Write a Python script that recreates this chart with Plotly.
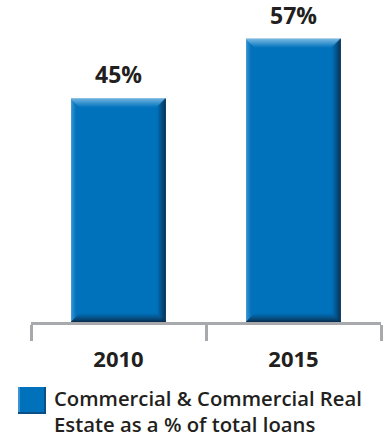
import plotly.graph_objects as go

# Share of commercial & commercial real estate lending
years = ["2010", "2015"]
share_pct = [45, 57]
value_labels = ["45%", "57%"]
legend_text = "Commercial &amp; Commercial Real<br>Estate as a % of total loans"

BLUE = "#0072BC"
TEXT = "#231F20"
GRAY = "#A7A9AC"
FONT = "Open Sans"
BAR_W = 0.54

# layout geometry
W_FIG, H_FIG = 389, 438
M_L, M_R, M_T, M_B = 31, 8, 0, 116
X_LO, X_HI = -0.5, len(years) - 0.5
Y_MAX = 64.8
PX_X = (W_FIG - M_L - M_R) / (X_HI - X_LO)
PX_Y = (H_FIG - M_T - M_B) / Y_MAX

xs = list(range(len(years)))

fig = go.Figure()
fig.add_trace(go.Bar(
    x=xs, y=share_pct, width=BAR_W,
    marker=dict(color=BLUE, line=dict(width=0)),
    showlegend=False, hoverinfo="skip",
))


def lerp(c1, c2, t):
    a = [int(c1[i:i + 2], 16) for i in (1, 3, 5)]
    b = [int(c2[i:i + 2], 16) for i in (1, 3, 5)]
    t = max(0.0, min(1.0, t))
    return "#" + "".join(f"{round(a[k] + (b[k] - a[k]) * t):02x}" for k in range(3))


shapes = []


def px_rect(xa, ya, x0, x1, y0, y1, color, xref="x", yref="y"):
    """Rectangle in pixels relative to an anchor point given in axis units."""
    shapes.append(dict(type="rect", xref=xref, yref=yref,
                       xsizemode="pixel", ysizemode="pixel",
                       xanchor=xa, yanchor=ya, x0=x0, x1=x1, y0=y0, y1=y1,
                       line_width=0, fillcolor=color, layer="above"))


# bevelled edges on each bar, built in pixels from its bottom-left corner
for xi, v in zip(xs, share_pct):
    left = xi - BAR_W / 2
    bw = BAR_W * PX_X
    bh = v * PX_Y
    # lighter left edge
    n = 5
    for c in range(n):
        px_rect(left, 0, c, c + 1, c, bh - c, lerp("#4b9dd6", BLUE, (c + 0.5) / n))
    # darker bottom edge
    n = 9
    for r in range(n):
        px_rect(left, 0, r, bw - r, r, r + 1, lerp("#0b2a48", BLUE, ((r + 0.5) / n) ** 0.8))
    # light top edge
    n = 9
    for r in range(n):
        px_rect(left, 0, r, bw - r, bh - r - 1, bh - r, lerp("#93c8ea", BLUE, ((r + 0.5) / n) ** 1.1))
    # dark right edge
    n = 9
    for c in range(n):
        px_rect(left, 0, bw - c - 1, bw - c, c, bh - c, lerp("#0a1f36", BLUE, ((c + 0.5) / n) ** 0.9))

# legend swatch
px_rect(0, 0, -13, 15, -92, -65, BLUE, xref="paper", yref="paper")
px_rect(0, 0, 13, 15, -92, -65, "#0a4f88", xref="paper", yref="paper")
px_rect(0, 0, -13, 15, -92, -90, "#0a4f88", xref="paper", yref="paper")
px_rect(0, 0, -13, -11, -90, -65, "#3d93d0", xref="paper", yref="paper")

annotations = [
    dict(x=xi, y=v, xref="x", yref="y", text=lbl, showarrow=False,
         yanchor="bottom", yshift=6, font=dict(family=FONT, size=23, color=TEXT, weight=700))
    for xi, v, lbl in zip(xs, share_pct, value_labels)
]
annotations.append(dict(x=0, y=0, xref="paper", yref="paper", xshift=21, yshift=-60,
                        xanchor="left", yanchor="top", align="left", showarrow=False,
                        text=legend_text,
                        font=dict(family=FONT, size=20.3, color=TEXT, weight=600)))

fig.update_layout(
    width=W_FIG, height=H_FIG,
    margin=dict(l=M_L, r=M_R, t=M_T, b=M_B),
    paper_bgcolor="white", plot_bgcolor="white",
    shapes=shapes,
    annotations=annotations,
    xaxis=dict(
        range=[X_LO, X_HI], tickmode="array", tickvals=xs, ticktext=years,
        # invisible major ticks keep the year labels clear of the divider ticks
        ticks="outside", ticklen=16, tickcolor="rgba(0,0,0,0)",
        # divider ticks between the categories
        minor=dict(tickmode="array", tickvals=[x - 0.5 for x in xs] + [xs[-1] + 0.5],
                   ticks="outside", ticklen=16, tickwidth=2.5, tickcolor=GRAY, showgrid=False),
        showline=True, linecolor=GRAY, linewidth=2.5,
        showgrid=False, zeroline=False,
        tickfont=dict(family=FONT, size=22, color=TEXT, weight=700),
        fixedrange=True,
    ),
    yaxis=dict(range=[0, Y_MAX], visible=False, fixedrange=True),
)

fig.write_html("out.html", config={"displayModeBar": False})
